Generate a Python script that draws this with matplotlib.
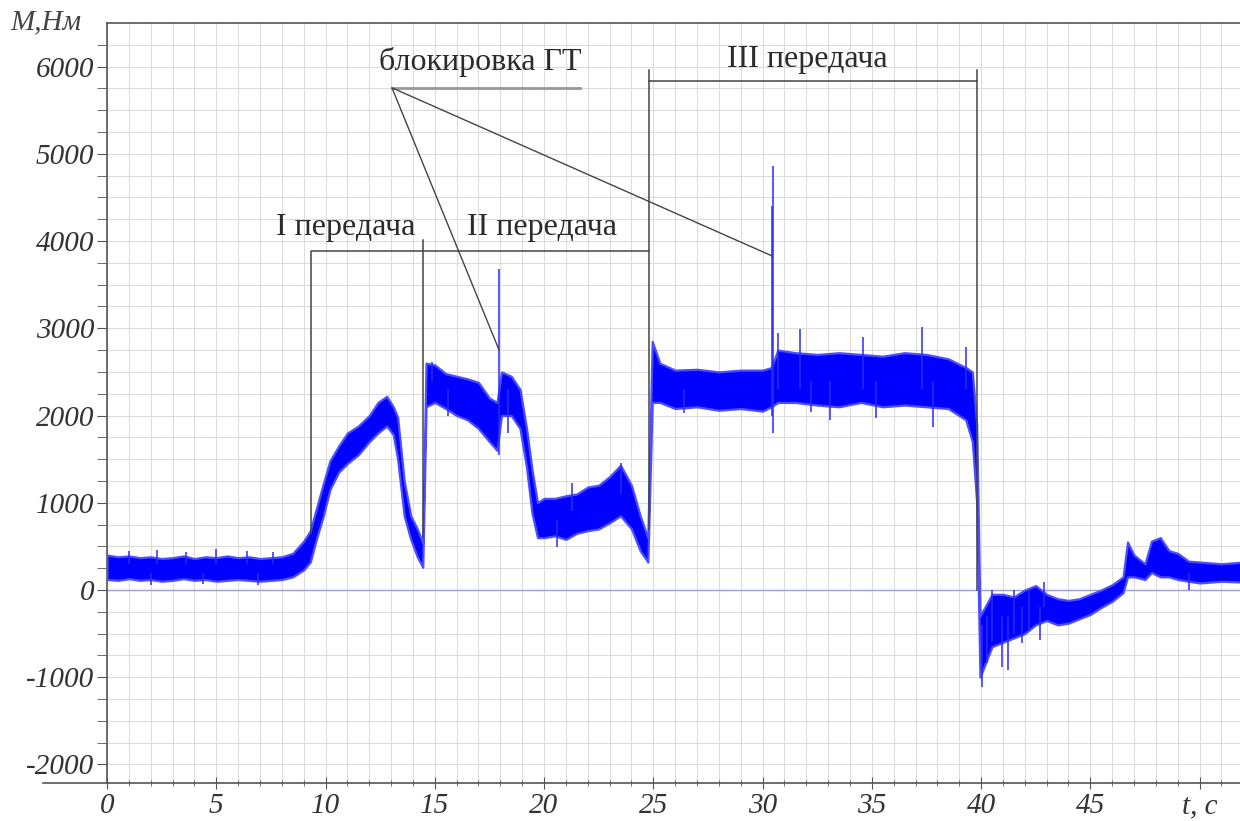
import numpy as np
import matplotlib.pyplot as plt
from matplotlib.lines import Line2D

# огибающая записи момента: время, нижняя и верхняя граница полосы
t = [0.0, 0.5, 1.0, 1.5, 2.0, 2.5, 3.0, 3.5, 4.0, 4.5, 5.0, 5.5, 6.0, 6.5, 7.0, 7.5, 8.0, 8.5,
     9.0, 9.3, 9.6, 9.9, 10.2, 10.6, 11.0, 11.5, 12.0, 12.4, 12.8, 13.1, 13.3, 13.6, 13.9, 14.2, 14.45, 14.6,
     15.0, 15.5, 16.0, 16.5, 17.0, 17.5, 17.85, 18.05, 18.5, 18.9, 19.2, 19.45, 19.7, 20.0, 20.5, 21.0, 21.5,
     22.0, 22.5, 23.0, 23.5, 24.0, 24.4, 24.75, 24.95,
     25.3, 26.0, 27.0, 28.0, 29.0, 30.0, 30.4, 30.7, 31.5, 32.5, 33.5, 34.5, 35.5, 36.5, 37.5, 38.5, 39.3, 39.6, 39.8,
     39.95, 40.5, 41.0, 41.5, 42.0, 42.5, 43.0, 43.5, 44.0, 44.5, 45.0, 45.5, 46.0, 46.5, 46.7, 47.0, 47.5, 47.8,
     48.2, 48.6, 49.0, 49.5, 50.0, 51.0, 52.0]
m_low = [120, 110, 130, 110, 120, 100, 110, 130, 110, 120, 100, 110, 120, 110, 100, 110, 120, 150,
         230, 320, 600, 850, 1150, 1350, 1450, 1550, 1700, 1800, 1880, 1780, 1500, 850, 580, 380, 260, 2100,
         2150, 2080, 2000, 1950, 1850, 1700, 1600, 2000, 2000, 1850, 1400, 880, 600, 600, 620, 580, 650,
         680, 700, 770, 850, 700, 450, 320, 2150,
         2150, 2080, 2100, 2060, 2080, 2050, 2100, 2150, 2150, 2120, 2100, 2150, 2100, 2120, 2100, 2080, 1950, 1700, 1000,
         -1000, -650, -600, -550, -500, -400, -350, -400, -380, -330, -280, -200, -130, -30, 150, 150, 120, 200,
         150, 150, 120, 100, 80, 100, 90]
m_high = [400, 380, 390, 370, 380, 360, 370, 390, 360, 380, 370, 390, 370, 380, 360, 370, 380, 420,
          560, 680, 950, 1220, 1480, 1650, 1800, 1880, 2000, 2150, 2220, 2100, 1980, 1250, 850, 700, 540, 2600,
          2580, 2480, 2450, 2420, 2380, 2200, 2150, 2500, 2450, 2300, 1850, 1380, 1000, 1050, 1050, 1080, 1100,
          1180, 1200, 1300, 1430, 1200, 850, 600, 2850,
          2600, 2520, 2530, 2500, 2520, 2520, 2550, 2750, 2720, 2700, 2720, 2700, 2680, 2720, 2700, 2650, 2550, 2500, 1900,
          -300, -50, -50, -80, 0, 50, -50, -100, -120, -100, -50, 0, 60, 150, 550, 400, 300, 560,
          600, 450, 420, 330, 320, 300, 320]

# одиночные выбросы: время, нижняя и верхняя точка
spike_t = [1.0, 2.0, 2.3, 3.6, 4.4, 5.0, 6.4, 6.9, 7.6,
           14.87, 15.6, 17.95, 18.35, 20.6, 21.3, 23.5, 26.4,
           30.45, 30.5, 30.7, 31.7, 32.2, 33.1, 34.6, 35.2, 37.3, 37.8, 39.3,
           40.05, 40.26, 40.5, 40.95, 41.25, 41.5, 41.86, 42.2, 42.7, 42.9, 49.5]
spike_lo = [300, 60, 300, 300, 70, 300, 300, 60, 300,
            2400, 1990, 1550, 1800, 495, 900, 1100, 2030,
            2000, 1800, 2300, 2300, 2040, 1950, 2300, 1970, 2300, 1870, 2300,
            -1112, -840, -600, -880, -917, -500, -610, -450, -570, -200, 0]
spike_hi = [450, 200, 460, 440, 200, 470, 450, 200, 430,
            2610, 2300, 3680, 2300, 800, 1225, 1455, 2300,
            4400, 4860, 2950, 2990, 2400, 2400, 2900, 2400, 3020, 2400, 2780,
            -400, -300, 0, -300, -300, 0, -200, 0, -200, 95, 200]

ytick_vals = [-2000, -1000, 0, 1000, 2000, 3000, 4000, 5000, 6000]
ytick_text = ['-2000', '-1000', '0', '1000', '2000', '3000', '4000', '5000', '6000']
xtick_vals = [0, 5, 10, 15, 20, 25, 30, 35, 40, 45, 50]
xtick_text = ['0', '5', '10', '15', '20', '25', '30', '35', '40', '45', 't, c']

plt.rcParams['font.family'] = ['Liberation Serif', 'DejaVu Serif']

fig = plt.figure(figsize=(12.4, 8.21), dpi=100)
ax = fig.add_axes([0.0863, 0.0463, 0.9137, 0.9257])
ax.set_xlim(0, 51.85)
ax.set_ylim(-2213, 6500)

# сетка
ax.set_xticks(np.arange(0, 52, 1), minor=True)
ax.set_yticks(np.arange(-2000, 6500, 250), minor=True)
ax.grid(True, which='both', color='#dcdcdc', linewidth=0.8)
ax.set_axisbelow(True)

ax.set_xticks(xtick_vals)
ax.set_xticklabels(xtick_text, fontsize=21, style='italic', color='#333333')
ax.set_yticks(ytick_vals)
ax.set_yticklabels(ytick_text, fontsize=21, style='italic', color='#333333')
ax.tick_params(axis='x', which='major', direction='inout', length=9, color='#555555', pad=3)
ax.tick_params(axis='x', which='minor', direction='inout', length=5, color='#555555')
ax.tick_params(axis='y', which='major', direction='out', length=7, color='#555555', pad=2)
ax.tick_params(axis='y', which='minor', direction='out', length=7, color='#555555')
for s in ['left', 'top', 'bottom']:
    ax.spines[s].set_color('#555555')
    ax.spines[s].set_linewidth(1.2)
ax.spines['right'].set_visible(False)

# нулевая линия
ax.axhline(0, color='#a0a0d4', linewidth=1.0, zorder=1)

# сигнал момента
ax.fill_between(t, m_low, m_high, facecolor='#0000ff', edgecolor='#4d4dff', linewidth=1.6, zorder=3)
ax.vlines(spike_t, spike_lo, spike_hi, color='#2a2aff', linewidth=1.1, zorder=3)

# границы передач
lc = '#444444'
ax.plot([9.32, 9.32, 24.8], [650, 3890, 3890], color=lc, lw=1.1, zorder=4)
ax.plot([14.48, 14.48], [610, 4014], color=lc, lw=1.1, zorder=4)
ax.plot([24.8, 24.8], [700, 5963], color=lc, lw=1.1, zorder=4)
ax.plot([24.8, 39.82], [5837, 5837], color=lc, lw=1.1, zorder=4)
ax.plot([39.82, 39.82], [0, 5963], color=lc, lw=1.1, zorder=4)

# выноска "блокировка ГТ"
ax.plot([13.04, 21.65], [5757, 5757], color='#999999', lw=2.0, zorder=4)
ax.plot([17.94, 13.04, 30.43], [2752, 5757, 3830], color=lc, lw=1.0, zorder=4)

tk = dict(fontsize=23, color='#2b2b2b', ha='center', va='center', zorder=5)
ax.text(17.07, 6055, 'блокировка ГТ', **tk)
ax.text(32.04, 6078, 'III передача', **tk)
ax.text(10.9, 4151, 'I передача', **tk)
ax.text(19.9, 4151, 'II передача', **tk)

fig.text(0.008, 0.973, 'М,Нм', fontsize=21, style='italic', color='#444444', ha='left', va='center')
fig.add_artist(Line2D([0.035, 0.0863], [0.0463, 0.0463], color='#555555', lw=1.2))

fig.savefig('out.png', dpi=100)
